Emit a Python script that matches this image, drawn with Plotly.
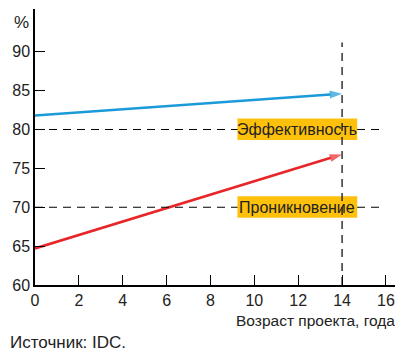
import plotly.graph_objects as go

age = [0, 14]
efficiency = [81.8, 84.6]
penetration = [64.7, 76.8]
x_ticks = [0, 2, 4, 6, 8, 10, 12, 14, 16]
y_ticks = [60, 65, 70, 75, 80, 85, 90]
labels = ["Эффективность", "Проникновение"]
label_levels = [80, 70]
label_x = 11.96
marker_age = 14

FONT = "Liberation Sans, sans-serif"
BLUE = "#1B9AD9"
RED = "#E8262A"
YELLOW = "#FDC10C"

fig = go.Figure()
for ys, col in [(efficiency, BLUE), (penetration, RED)]:
    fig.add_trace(go.Scatter(
        x=age, y=ys, mode="lines+markers",
        line=dict(color=col, width=2.6),
        marker=dict(symbol="arrow", angleref="previous", size=[0, 13], color=col,
                    line=dict(width=0)),
        hoverinfo="skip", showlegend=False, cliponaxis=False))

shapes = []
for lv in label_levels:
    shapes.append(dict(type="line", xref="x", yref="y", x0=0, x1=15.7, y0=lv, y1=lv,
                       line=dict(color="black", width=1.2, dash="8px,6px"), layer="above"))
for lv in label_levels:
    shapes.append(dict(type="rect", xref="x", yref="y", x0=9.23, x1=14.69,
                       y0=lv - 1.35, y1=lv + 1.4, fillcolor=YELLOW, line=dict(width=0),
                       layer="above"))
shapes.append(dict(type="line", xref="x", yref="y", x0=marker_age, x1=marker_age,
                   y0=60, y1=91.2, line=dict(color="black", width=1.2, dash="8px,6px"),
                   layer="above"))

annotations = []
for lab, lv in zip(labels, label_levels):
    annotations.append(dict(x=label_x, y=lv, xref="x", yref="y", text=lab, showarrow=False,
                            font=dict(family=FONT, size=16, color="#222")))
annotations += [
    dict(x=0, y=1, xref="paper", yref="paper", text="%", showarrow=False, xanchor="right",
         yanchor="top", xshift=-4, yshift=-2, font=dict(family=FONT, size=17, color="#222")),
    dict(x=1, y=0, xref="paper", yref="paper", yshift=-46, xshift=-1, text="Возраст проекта, года",
         showarrow=False, xanchor="right", yanchor="bottom",
         font=dict(family=FONT, size=15.5, color="#222")),
    dict(x=0, y=0, xref="paper", yref="paper", xshift=-27, yshift=-46, text="Источник: IDC.",
         showarrow=False, xanchor="left", yanchor="top",
         font=dict(family=FONT, size=17, color="#222")),
]

# the page body has an 8px margin, so the figure is drawn 8px in from the window's corner
fig.update_layout(
    width=395, height=355,
    margin=dict(l=27, r=5, t=1, b=78),
    paper_bgcolor="white", plot_bgcolor="white",
    font=dict(family=FONT, size=16, color="#222"),
    shapes=shapes, annotations=annotations,
    xaxis=dict(range=[0, 16.55], tickvals=x_ticks, ticks="inside", ticklen=10, tickwidth=1.2,
               tickcolor="black", showline=True, linecolor="black", linewidth=1.5,
               showgrid=False, zeroline=False, fixedrange=True, automargin=False),
    yaxis=dict(range=[60, 95.5], tickvals=y_ticks, ticks="inside", ticklen=10, tickwidth=1.2,
               tickcolor="black", showline=True, linecolor="black", linewidth=1.5,
               showgrid=False, zeroline=False, fixedrange=True, automargin=False),
)

fig.write_html("out.html")
